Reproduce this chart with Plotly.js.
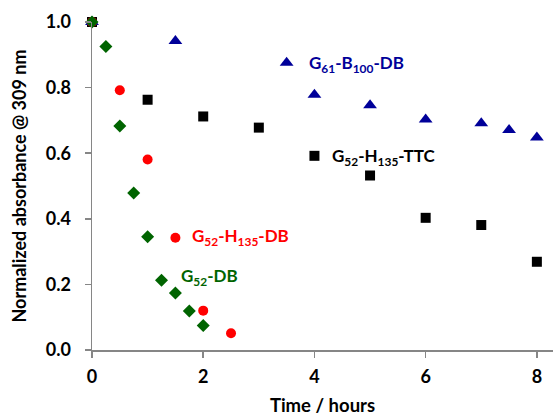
<!DOCTYPE html>
<html><head><meta charset="utf-8">
<script src="https://cdn.plot.ly/plotly-3.0.1.min.js"></script>
<style>html,body{margin:0;padding:0;background:#fff}#c{width:553px;height:416px}</style>
</head><body><div id="c"></div>
<script>
const ttcX = [0,1,2,3,4,5,6,7,8];
const ttcY = [1.0,0.763,0.712,0.678,0.592,0.532,0.403,0.381,0.269];
const bX = [0,1.5,3.5,4,5,6,7,7.5,8];
const bY = [1.0,0.942,0.876,0.778,0.746,0.703,0.691,0.671,0.648];
const hX = [0,0.5,1,1.5,2,2.5];
const hY = [1.0,0.792,0.581,0.342,0.12,0.051];
const gX = [0,0.25,0.5,0.75,1,1.25,1.5,1.75,2];
const gY = [1.0,0.925,0.683,0.479,0.345,0.213,0.174,0.119,0.075];
const xTicks = [0,2,4,6,8];
const yTicks = [0,0.2,0.4,0.6,0.8,1.0];
const BLUE='#000099', GREEN='#006400', RED='#ff0000', BLACK='#000000';
const FONT='Lato, "Open Sans", sans-serif';
const mk=(x,y,sym,col,size)=>({x,y,type:'scatter',mode:'markers',cliponaxis:false,
  marker:{symbol:sym,color:col,size:size,line:{width:0}},hoverinfo:'skip'});
const data=[
  mk(ttcX,ttcY,'square',BLACK,10),
  mk(bX,bY,'triangle-up',BLUE,12),
  mk(hX,hY,'circle',RED,10),
  mk(gX,gY,'diamond',GREEN,10)
];
const ann=(x,y,t,c)=>({x,y,xref:'x',yref:'y',text:t,showarrow:false,xanchor:'left',yanchor:'middle',
  font:{family:FONT,size:17,color:c,weight:700}});
const layout={
  width:553,height:416,margin:{l:92,r:0,t:22,b:66},
  paper_bgcolor:'#fff',plot_bgcolor:'#fff',showlegend:false,
  xaxis:{range:[0,8.29],tickvals:xTicks,ticktext:xTicks.map(String),showgrid:false,zeroline:false,
    showline:true,linecolor:'#868686',linewidth:1.5,ticks:'outside',ticklen:6,tickcolor:'#868686',tickwidth:1.5,
    ticklabelstandoff:4,
    tickfont:{family:FONT,size:18,color:'#000',weight:700},
    title:{text:'Time / hours',font:{family:FONT,size:18.5,color:'#000',weight:700},standoff:14}},
  yaxis:{range:[0,1.0],tickvals:yTicks,ticktext:yTicks.map(v=>v.toFixed(1)),showgrid:false,zeroline:false,
    showline:true,linecolor:'#868686',linewidth:1.5,ticks:'outside',ticklen:6,tickcolor:'#868686',tickwidth:1.5,
    ticklabelstandoff:10,
    tickfont:{family:FONT,size:18,color:'#000',weight:700},
    title:{text:'Normalized absorbance @ 309 nm',font:{family:FONT,size:18,color:'#000',weight:700},standoff:14}},
  annotations:[
    ann(3.87,0.872,'G<sub>61</sub>-B<sub>100</sub>-DB',BLUE),
    ann(4.28,0.588,'G<sub>52</sub>-H<sub>135</sub>-TTC',BLACK),
    ann(1.76,0.344,'G<sub>52</sub>-H<sub>135</sub>-DB',RED),
    ann(1.56,0.223,'G<sub>52</sub>-DB',GREEN)
  ]
};
Plotly.newPlot('c',data,layout,{staticPlot:true,displayModeBar:false});
</script></body></html>
